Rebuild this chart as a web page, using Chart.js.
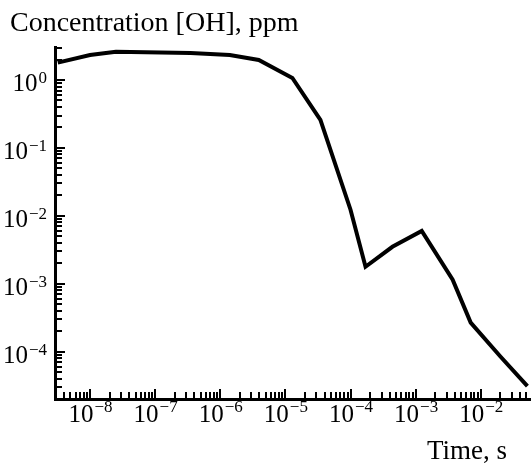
<!DOCTYPE html>
<html>
<head>
<meta charset="utf-8">
<script src="https://cdn.jsdelivr.net/npm/chart.js@4.4.0/dist/chart.umd.min.js"></script>
<style>
  html, body { margin: 0; padding: 0; background: #fff; }
  #wrap { width: 531px; height: 463px; }
</style>
</head>
<body>
<div id="wrap"><canvas id="myChart" width="531" height="463"></canvas></div>
<script>
// data (time in s, [OH] in ppm)
const timeValues = [3.2e-9, 1.0e-8, 2.5e-8, 3.5e-7, 1.4e-6, 3.9e-6, 1.28e-5, 3.45e-5, 1.0e-4, 1.7e-4, 4.4e-4, 1.24e-3, 3.7e-3, 7.0e-3, 2.0e-2, 5.2e-2];
const ohValues   = [1.8, 2.33, 2.6, 2.5, 2.33, 1.97, 1.07, 0.258, 0.0123, 0.00178, 0.0035, 0.0060, 0.00115, 0.000268, 0.000085, 0.000031];

// axis decades and labels
const xDecades = [-8, -7, -6, -5, -4, -3, -2];
const yDecades = [0, -1, -2, -3, -4];
const xRange = [2.9e-9, 0.057];
const yRange = [2.01e-5, 3.06];

const yTitle = 'Concentration [OH], ppm';
const xTitle = 'Time, s';

const serif = '"Liberation Serif", "DejaVu Serif", serif';

// draws the inward ticks, the 10^n labels and both axis titles
const axisDecor = {
  id: 'axisDecor',
  afterDraw(chart) {
    const ctx = chart.ctx;
    const xs = chart.scales.x, ys = chart.scales.y;
    const left = chart.chartArea.left, bottom = chart.chartArea.bottom;
    ctx.save();
    ctx.strokeStyle = '#000';
    ctx.lineWidth = 2;
    ctx.beginPath();
    for (let k = -10; k <= 1; k++) {
      for (let m = 1; m <= 9; m++) {
        const v = m * Math.pow(10, k);
        const len = m === 1 ? 10 : 7;
        if (v >= xRange[0] && v <= xRange[1]) {
          const px = Math.round(xs.getPixelForValue(v));
          ctx.moveTo(px, bottom);
          ctx.lineTo(px, bottom - len);
        }
        if (v >= yRange[0] && v <= yRange[1]) {
          const py = Math.round(ys.getPixelForValue(v));
          ctx.moveTo(left, py);
          ctx.lineTo(left + len, py);
        }
      }
    }
    ctx.stroke();

    ctx.fillStyle = '#000';
    ctx.textBaseline = 'alphabetic';
    const bigFont = '25px ' + serif;
    const supFont = '17px ' + serif;

    // x labels, centred on the decade tick
    xDecades.forEach(d => {
      const px = xs.getPixelForValue(Math.pow(10, d));
      const sup = '\u2212' + Math.abs(d);
      ctx.font = bigFont;
      const w1 = ctx.measureText('10').width;
      ctx.font = supFont;
      const w2 = ctx.measureText(sup).width;
      const x0 = px - (w1 + w2) / 2;
      ctx.font = bigFont;
      ctx.textAlign = 'left';
      ctx.fillText('10', x0, bottom + 23);
      ctx.font = supFont;
      ctx.fillText(sup, x0 + w1 + 1, bottom + 13);
    });

    // y labels, right aligned left of the axis
    yDecades.forEach(d => {
      const py = ys.getPixelForValue(Math.pow(10, d));
      const sup = d === 0 ? '0' : '\u2212' + Math.abs(d);
      ctx.font = supFont;
      const w2 = ctx.measureText(sup).width;
      ctx.textAlign = 'left';
      const xEnd = left - 8;
      ctx.fillText(sup, xEnd - w2, py + 3);
      ctx.font = bigFont;
      ctx.textAlign = 'right';
      ctx.fillText('10', xEnd - w2 - 1, py + 11);
    });

    ctx.font = '28px ' + serif;
    ctx.textAlign = 'left';
    ctx.fillText(yTitle, 10, 31);
    ctx.font = '27px ' + serif;
    ctx.textAlign = 'right';
    ctx.fillText(xTitle, 507, 459);
    ctx.restore();
  }
};

const data = {
  datasets: [{
    data: timeValues.map((t, i) => ({x: t, y: ohValues[i]})),
    borderColor: '#000',
    borderWidth: 4,
    pointRadius: 0,
    showLine: true,
    fill: false,
    tension: 0
  }]
};

const config = {
  type: 'scatter',
  data: data,
  options: {
    responsive: false,
    animation: false,
    events: [],
    layout: { padding: { left: 55, top: 47, right: 1, bottom: 64 } },
    plugins: { legend: { display: false }, tooltip: { enabled: false }, title: { display: false } },
    scales: {
      x: {
        type: 'logarithmic',
        min: xRange[0],
        max: xRange[1],
        grid: { display: false, drawTicks: false },
        border: { display: true, color: '#000', width: 3 },
        ticks: { display: false }
      },
      y: {
        type: 'logarithmic',
        min: yRange[0],
        max: yRange[1],
        grid: { display: false, drawTicks: false },
        border: { display: true, color: '#000', width: 3 },
        ticks: { display: false }
      }
    }
  },
  plugins: [axisDecor]
};

const myChart = new Chart(document.getElementById('myChart'), config);
</script>
</body>
</html>
